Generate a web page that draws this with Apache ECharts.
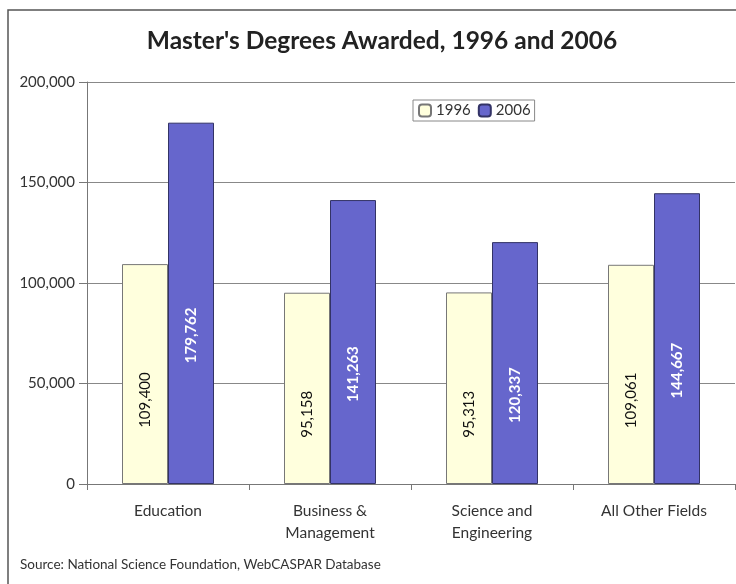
<!DOCTYPE html>
<html>
<head>
<meta charset="utf-8">
<script src="https://cdn.jsdelivr.net/npm/echarts@6/dist/echarts.min.js"></script>
<style>
  html, body { margin: 0; padding: 0; background: #fff; }
  #chart { width: 736px; height: 584px; }
</style>
</head>
<body>
<div id="chart"></div>
<script>
const categories = ["Education", "Business &\nManagement", "Science and\nEngineering", "All Other Fields"];
const values1996 = [109400, 95158, 95313, 109061];
const values2006 = [179762, 141263, 120337, 144667];
const seriesNames = ["1996", "2006"];

const fmt = (v) => v.toLocaleString("en-US");
const font = "Lato, 'Open Sans', sans-serif";

const chart = echarts.init(document.getElementById("chart"));
chart.setOption({
  animation: false,
  backgroundColor: "#fff",
  textStyle: { fontFamily: font },
  title: {
    text: "Master's Degrees Awarded, 1996 and 2006",
    left: 377,
    textAlign: "center",
    top: 24,
    textStyle: { fontSize: 24.5, fontWeight: "bold", color: "#222", fontFamily: font }
  },
  legend: {
    data: seriesNames,
    left: 413,
    top: 100,
    itemWidth: 12,
    itemHeight: 12,
    itemGap: 7,
    padding: [3, 4, 3, 5],
    borderColor: "#888",
    borderWidth: 1,
    textStyle: { fontSize: 15, color: "#333" }
  },
  grid: { left: 87, right: 1, top: 82, bottom: 100 },
  xAxis: {
    type: "category",
    data: categories,
    axisLine: { lineStyle: { color: "#777" } },
    axisTick: { show: true, length: 6, lineStyle: { color: "#777" } },
    axisLabel: { fontSize: 15.5, color: "#333", margin: 16, lineHeight: 22 }
  },
  yAxis: {
    type: "value",
    min: 0,
    max: 200000,
    interval: 50000,
    axisLine: { show: true, lineStyle: { color: "#777" } },
    axisTick: { show: true, length: 8, lineStyle: { color: "#777" } },
    axisLabel: { fontSize: 15, color: "#333", margin: 12, formatter: (v) => fmt(v) },
    splitLine: { lineStyle: { color: "#888", width: 1 } }
  },
  series: [
    {
      name: seriesNames[0],
      type: "bar",
      data: values1996,
      barWidth: 46,
      barGap: "0%",
      itemStyle: { color: "#FFFFDD", borderColor: "#777", borderWidth: 1 },
      label: {
        show: true,
        position: "inside",
        rotate: 90,
        offset: [-26, 0],
        fontSize: 15,
        color: "#111",
        fontFamily: font,
        formatter: (p) => fmt(p.value)
      }
    },
    {
      name: seriesNames[1],
      type: "bar",
      data: values2006,
      barWidth: 46,
      barGap: "0%",
      itemStyle: { color: "#6666CC", borderColor: "#333366", borderWidth: 1 },
      label: {
        show: true,
        position: "inside",
        rotate: 90,
        offset: [-32, 0],
        fontSize: 15,
        fontWeight: "bold",
        color: "#fff",
        fontFamily: font,
        formatter: (p) => fmt(p.value)
      }
    }
  ],
  graphic: [
    {
      type: "polyline",
      shape: { points: [[8, 584], [8, 10], [736, 10]] },
      style: { stroke: "#555", lineWidth: 1.5, fill: null }
    },
    {
      type: "text",
      left: 20,
      top: 558,
      style: { text: "Source: National Science Foundation, WebCASPAR Database", fontSize: 13.5, fill: "#333", fontFamily: font }
    }
  ]
});
</script>
</body>
</html>
